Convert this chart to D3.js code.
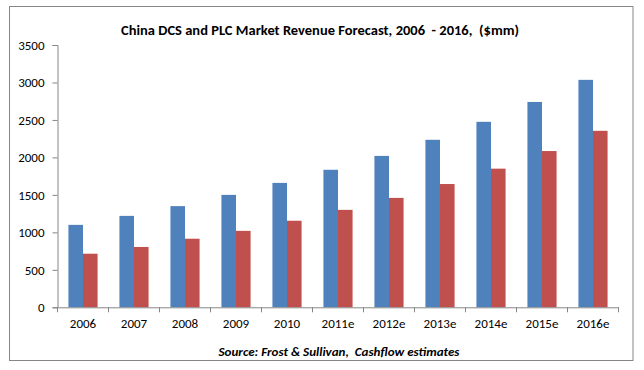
<!DOCTYPE html>
<html><head><meta charset="utf-8">
<script src="https://cdn.jsdelivr.net/npm/d3@7"></script>
<style>html,body{margin:0;padding:0;background:#fff;} svg text{white-space:pre;}</style>
</head><body>
<script>
const categories = ["2006","2007","2008","2009","2010","2011e","2012e","2013e","2014e","2015e","2016e"];
const dcsValues = [1100,1220,1350,1500,1660,1835,2020,2235,2475,2740,3035];
const plcValues = [715,805,915,1020,1155,1300,1460,1645,1850,2085,2355];
const yTicks = [0,500,1000,1500,2000,2500,3000,3500];
const titleText = "China DCS and PLC Market Revenue Forecast, 2006  - 2016,  ($mm)";
const sourceText = "Source: Frost & Sullivan,  Cashflow estimates";

(function(){
const W = 644, H = 370;
const svg = d3.select("body").append("svg").attr("width", W).attr("height", H);
const font = "Carlito, Calibri, 'Liberation Sans', Arial, sans-serif";

svg.append("rect").attr("x", 9.5).attr("y", 6.5).attr("width", 623.5).attr("height", 354)
  .attr("fill", "#fff").attr("stroke", "#868686").attr("stroke-width", 1);

const mLeft = 57.5, mRight = 618.5, mTop = 45, mBottom = 307.3;
const x = d3.scaleBand().domain(categories).range([mLeft, mRight]).paddingInner(0).paddingOuter(0);
const y = d3.scaleLinear().domain([0, 3500]).range([mBottom, mTop]);
const inner = d3.scaleBand().domain(["dcs","plc"]).range([0, x.bandwidth()]).paddingInner(0).paddingOuter(0.75);

const series = [{key:"dcs", values: dcsValues, color:"#4F81BD"}, {key:"plc", values: plcValues, color:"#C0504D"}];
series.forEach(s => {
  svg.append("g").selectAll("rect").data(categories).join("rect")
    .attr("x", (d) => x(d) + inner(s.key))
    .attr("width", inner.bandwidth())
    .attr("y", (d, i) => y(s.values[i]))
    .attr("height", (d, i) => y(0) - y(s.values[i]))
    .attr("fill", s.color);
});

const yAxis = svg.append("g").attr("transform", `translate(${mLeft},0)`)
  .call(d3.axisLeft(y).tickValues(yTicks).tickSize(5).tickPadding(8).tickFormat(d3.format("d")));
const xAxis = svg.append("g").attr("transform", `translate(0,${mBottom})`)
  .call(d3.axisBottom(x).tickSize(0).tickPadding(11));
const bounds = categories.map(c => x(c)).concat([mRight]);
svg.append("g").selectAll("line").data(bounds).join("line")
  .attr("x1", d => d).attr("x2", d => d).attr("y1", mBottom).attr("y2", mBottom + 5)
  .attr("stroke", "#868686");

[yAxis, xAxis].forEach(a => {
  a.select(".domain").attr("stroke", "#868686");
  a.selectAll(".tick line").attr("stroke", "#868686");
  a.selectAll(".tick text").attr("font-family", font).attr("font-size", 13).attr("fill", "#000");
});

svg.append("text").attr("x", 320).attr("y", 35).attr("text-anchor", "middle")
  .attr("font-family", font).attr("font-size", 13).attr("font-weight", "bold").attr("fill", "#000")
  .attr("textLength", 398).attr("lengthAdjust", "spacingAndGlyphs")
  .text(titleText);

svg.append("text").attr("x", 339).attr("y", 356).attr("text-anchor", "middle")
  .attr("font-family", font).attr("font-size", 11).attr("font-weight", "bold").attr("font-style", "italic").attr("fill", "#000")
  .attr("textLength", 241).attr("lengthAdjust", "spacingAndGlyphs")
  .text(sourceText);
})();
</script>
</body></html>
